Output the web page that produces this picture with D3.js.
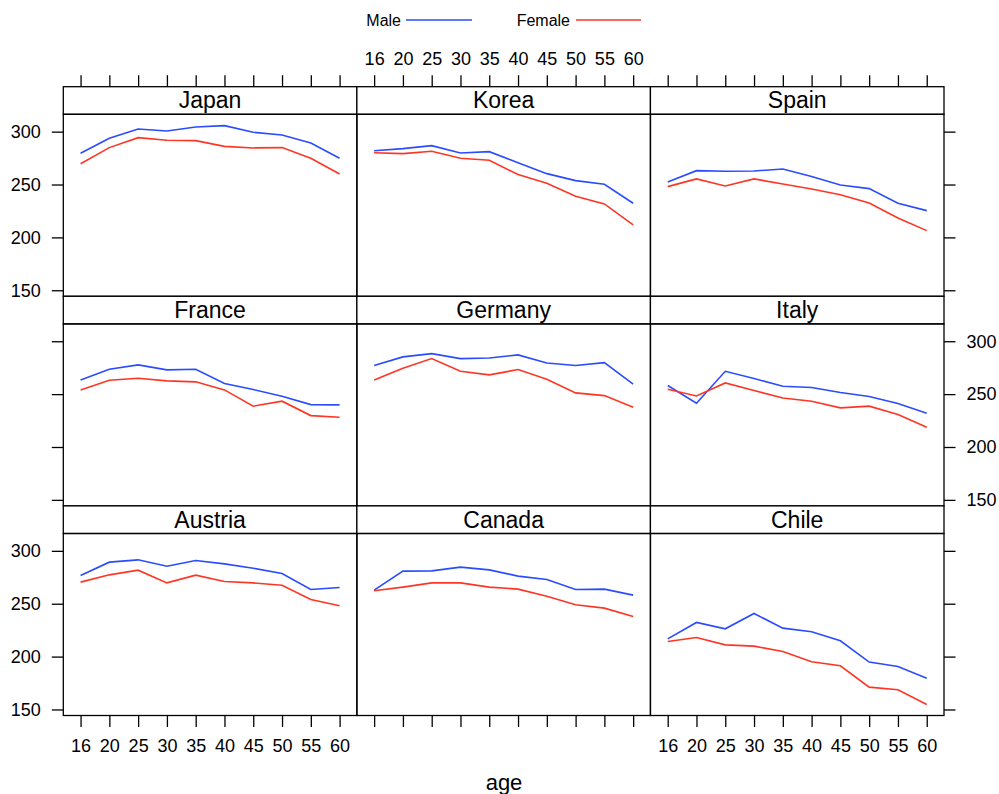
<!DOCTYPE html>
<html>
<head>
<meta charset="utf-8">
<script src="https://cdnjs.cloudflare.com/ajax/libs/d3/7.8.5/d3.min.js"></script>
<style>
  body { margin: 0; background: #fff; }
  svg text { font-family: "Liberation Sans", Arial, sans-serif; fill: #000; }
</style>
</head>
<body>
<div id="chart"></div>
<script>
// age groups (categorical x axis)
var ages = ['16', '20', '25', '30', '35', '40', '45', '50', '55', '60'];
var yTicks = [150, 200, 250, 300];

// panel order: top row first, left to right
var countries = ['Japan', 'Korea', 'Spain', 'France', 'Germany', 'Italy', 'Austria', 'Canada', 'Chile'];

var maleJapan = [279.5, 293.7, 302.5, 300.6, 304.4, 305.7, 299.4, 296.8, 289.3, 274.8];
var femaleJapan = [269.7, 284.9, 294.3, 291.8, 291.5, 286.1, 284.6, 284.9, 274.8, 260.0];
var maleKorea = [282.0, 283.9, 286.8, 279.8, 281.1, 270.7, 260.3, 253.7, 250.2, 232.3];
var femaleKorea = [280.1, 279.2, 281.4, 274.8, 272.9, 259.4, 251.2, 238.9, 231.6, 211.8];
var maleSpain = [252.4, 263.1, 262.5, 262.8, 264.7, 257.5, 249.6, 246.1, 232.3, 225.3];
var femaleSpain = [248.0, 255.3, 248.6, 255.3, 250.5, 245.8, 240.4, 232.6, 218.4, 206.4];
var maleFrance = [263.4, 273.5, 277.6, 272.9, 273.5, 260.0, 254.3, 248.0, 240.1, 239.8];
var femaleFrance = [254.0, 263.1, 265.0, 262.5, 261.6, 254.0, 238.6, 243.3, 229.7, 228.2];
var maleGermany = [277.0, 285.2, 288.3, 283.6, 284.2, 287.1, 279.5, 277.0, 279.8, 259.4];
var femaleGermany = [263.4, 274.5, 283.6, 271.6, 268.2, 273.2, 264.1, 251.2, 248.6, 237.6];
var maleItaly = [258.1, 241.4, 271.6, 264.7, 257.5, 256.2, 251.5, 247.7, 241.1, 231.9];
var femaleItaly = [254.6, 248.3, 260.6, 253.4, 246.4, 243.3, 237.0, 238.6, 230.7, 218.7];
var maleAustria = [276.7, 289.3, 291.5, 285.5, 290.9, 287.7, 283.6, 278.6, 263.4, 265.3];
var femaleAustria = [270.4, 277.3, 281.7, 269.7, 277.0, 271.0, 269.7, 267.5, 254.0, 248.0];
var maleCanada = [262.8, 280.8, 281.1, 284.6, 282.0, 276.1, 272.9, 263.4, 263.8, 258.1];
var femaleCanada = [262.2, 265.7, 269.7, 269.7, 265.7, 263.8, 257.1, 249.0, 245.8, 237.9];
var maleChile = [216.8, 232.3, 226.3, 240.8, 226.9, 223.5, 214.9, 194.8, 190.7, 179.6];
var femaleChile = [214.3, 218.1, 211.1, 209.9, 204.8, 195.1, 191.3, 171.1, 168.6, 154.7];

var maleSeries = [maleJapan, maleKorea, maleSpain, maleFrance, maleGermany, maleItaly, maleAustria, maleCanada, maleChile];
var femaleSeries = [femaleJapan, femaleKorea, femaleSpain, femaleFrance, femaleGermany, femaleItaly, femaleAustria, femaleCanada, femaleChile];

var maleColor = '#2a4bff';
var femaleColor = '#ff3524';

var width = 999, height = 794;
var gridLeft = 63.3, gridRight = 944, gridTop = 86.7;
var panelW = (gridRight - gridLeft) / 3;
var stripH = 27.6, plotH = 182;
var rowH = stripH + plotH;
var tickLen = 11.5;

var svg = d3.select('#chart').append('svg')
    .attr('width', width)
    .attr('height', height);

var x = d3.scalePoint()
    .domain(ages)
    .range([0, panelW])
    .padding(0.6);

var y = d3.scaleLinear()
    .domain([144.3, 316.4])
    .range([plotH, 0]);

var line = d3.line()
    .x(function (d, i) { return x(ages[i]); })
    .y(function (d) { return y(d); });

countries.forEach(function (name, k) {
    var row = Math.floor(k / 3), col = k % 3;
    var gx = gridLeft + col * panelW;
    var gy = gridTop + row * rowH;

    var g = svg.append('g').attr('transform', 'translate(' + gx + ',' + gy + ')');

    // strip
    g.append('rect')
        .attr('width', panelW).attr('height', stripH)
        .attr('fill', '#fff').attr('stroke', '#000').attr('stroke-width', 1.3);
    g.append('text')
        .attr('x', panelW / 2).attr('y', stripH / 2 + 8)
        .attr('text-anchor', 'middle')
        .style('font-size', '23px')
        .text(name);

    var p = g.append('g').attr('transform', 'translate(0,' + stripH + ')');

    p.append('path').datum(maleSeries[k])
        .attr('d', line).attr('fill', 'none')
        .attr('stroke', maleColor).attr('stroke-width', 1.6);
    p.append('path').datum(femaleSeries[k])
        .attr('d', line).attr('fill', 'none')
        .attr('stroke', femaleColor).attr('stroke-width', 1.6);

    p.append('rect')
        .attr('width', panelW).attr('height', plotH)
        .attr('fill', 'none').attr('stroke', '#000').attr('stroke-width', 1.3);

    // alternating axes, lattice style
    if (row === 0) {
        var ax = d3.axisTop(x).tickSize(tickLen).tickPadding(10);
        if (col !== 1) ax.tickFormat('');
        styleAxis(g.append('g').call(ax));
    }
    if (row === 2) {
        var axb = d3.axisBottom(x).tickSize(tickLen).tickPadding(12);
        if (col === 1) axb.tickFormat('');
        styleAxis(p.append('g').attr('transform', 'translate(0,' + plotH + ')').call(axb));
    }
    if (col === 0) {
        var ay = d3.axisLeft(y).tickValues(yTicks).tickSize(tickLen).tickPadding(11);
        if (row === 1) ay.tickFormat('');
        styleAxis(p.append('g').call(ay));
    }
    if (col === 2) {
        var ayr = d3.axisRight(y).tickValues(yTicks).tickSize(tickLen).tickPadding(11);
        if (row !== 1) ayr.tickFormat('');
        styleAxis(p.append('g').attr('transform', 'translate(' + panelW + ',0)').call(ayr));
    }
});

function styleAxis(sel) {
    sel.select('.domain').remove();
    sel.selectAll('line').attr('stroke', '#000').attr('stroke-width', 1.3);
    sel.selectAll('text')
        .style('font-size', '18px')
        .style('font-family', '"Liberation Sans", Arial, sans-serif')
        .attr('fill', '#000');
}

// x axis title
svg.append('text')
    .attr('x', 504).attr('y', 790)
    .attr('text-anchor', 'middle')
    .style('font-size', '22px')
    .text('age');

// legend
var legend = [
    { label: 'Male', color: maleColor, tx: 401, x1: 406, x2: 472 },
    { label: 'Female', color: femaleColor, tx: 570, x1: 576, x2: 641 }
];
legend.forEach(function (d) {
    svg.append('text')
        .attr('x', d.tx).attr('y', 26)
        .attr('text-anchor', 'end')
        .style('font-size', '16px')
        .text(d.label);
    svg.append('line')
        .attr('x1', d.x1).attr('x2', d.x2)
        .attr('y1', 20).attr('y2', 20)
        .attr('stroke', d.color).attr('stroke-width', 1.5);
});
</script>
</body>
</html>
